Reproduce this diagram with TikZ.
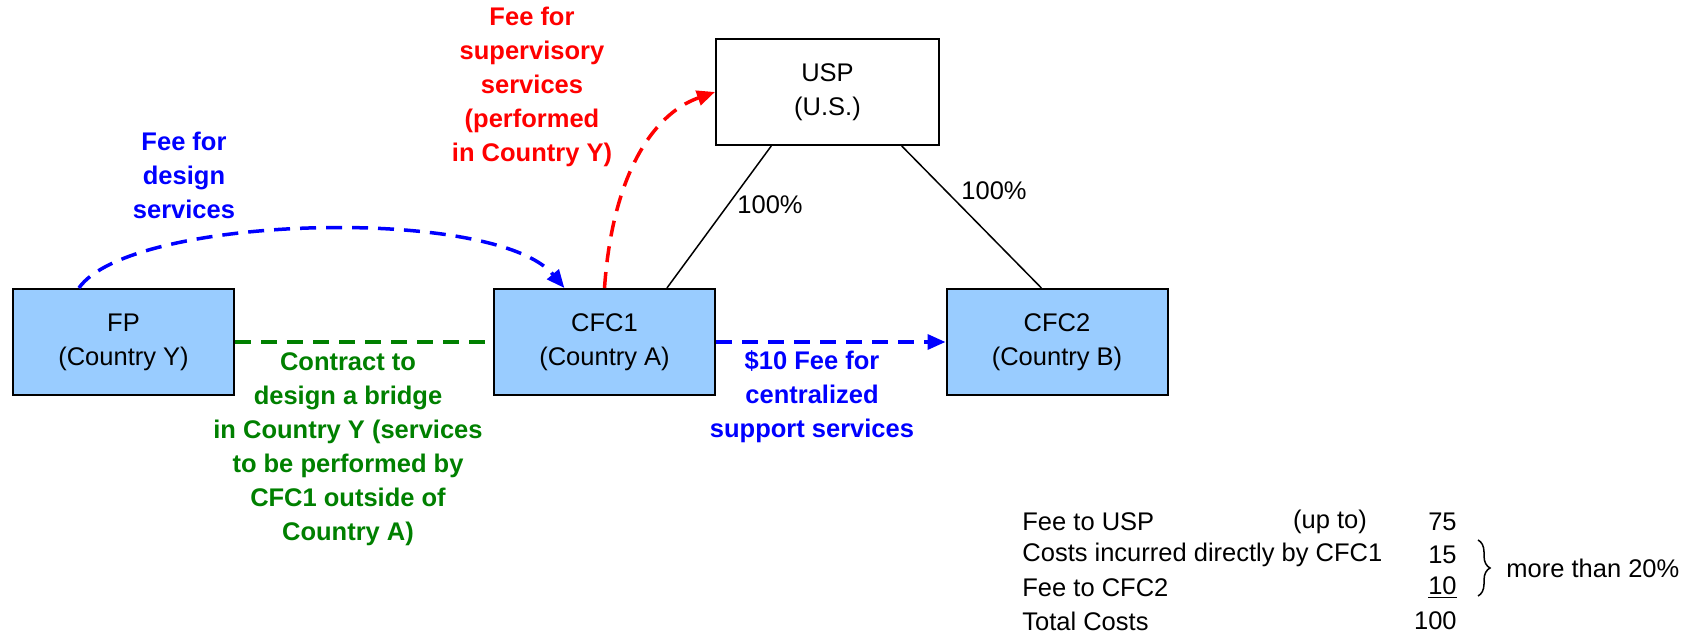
\documentclass[tikz,border=0pt]{standalone}
\usepackage{fontspec}
\setmainfont{Liberation Sans}
\usetikzlibrary{arrows.meta,calc,decorations.pathreplacing}
\definecolor{boxblue}{HTML}{99CCFF}
\definecolor{dkgreen}{HTML}{008000}
\begin{document}
\begin{tikzpicture}[x=0.5pt,y=-0.5pt,
  every node/.style={font=\fontsize{12.75}{17}\selectfont, align=center, inner sep=0pt},
  entity/.style={draw=black, line width=1pt, minimum width=110.5pt, minimum height=53pt},
  sub/.style={entity, fill=boxblue},
  flow/.style={line width=1.75pt, dash pattern=on 8pt off 5pt},
  tip/.style={-{Triangle[length=9pt,width=7.5pt]}},
  lbl/.style={font=\fontsize{12.75}{17}\selectfont\bfseries},
  own/.style={line width=0.75pt}
]
\useasboundingbox (0,0) rectangle (1696,635);

% entities
\node[sub] (FP) at (123.5,342) {FP\\(Country Y)};
\node[sub] (CFC1) at (604.5,342) {CFC1\\(Country A)};
\node[sub] (CFC2) at (1057,342) {CFC2\\(Country B)};
\node[entity, minimum width=111.5pt] (USP) at (827.5,92) {USP\\(U.S.)};

% ownership lines
\draw[own] ($(USP.south west)!0.25!(USP.south east)$) -- ($(CFC1.north west)!0.78!(CFC1.north east)$);
\draw[own] ($(USP.south west)!0.83!(USP.south east)$) -- ($(CFC2.north west)!0.43!(CFC2.north east)$);
\node (p1) at (770,205) {100\%};
\node (p2) at (994,191) {100\%};

% flows
\draw[flow, blue, tip] ($(FP.north west)!0.30!(FP.north east)$) .. controls (130,215) and (495,205) .. ($(CFC1.north west)!0.32!(CFC1.north east)$);
\draw[flow, red, tip] (CFC1.north) .. controls (612,180) and (650,115) .. (USP.west);
\draw[flow, dkgreen] (FP.east) -- (CFC1.west);
\draw[flow, blue, tip] (CFC1.east) -- (CFC2.west);

% flow labels
\node[lbl, text=blue] (lfp) at (184,175) {Fee for\\design\\services};
\node[lbl, text=red] (lsup) at (532,86.5) {Fee for\\supervisory\\services\\(performed\\in Country Y)};
\node[lbl, text=dkgreen] (lcon) at (348,449) {Contract to\\design a bridge\\in Country Y (services\\to be performed by\\CFC1 outside of\\Country A)};
\node[lbl, text=blue] (lcen) at (812,397) {\$10 Fee for\\centralized\\support services};

% cost table
\node[anchor=west] (t1) at (1022,522) {Fee to USP};
\node (t1b) at (1330,522) {(up to)};
\node[anchor=east] (n1) at (1457,522) {75};
\node[anchor=west] (t2) at (1022,555) {Costs incurred directly by CFC1};
\node[anchor=east] (n2) at (1457,555) {15};
\node[anchor=west] (t3) at (1022,588) {Fee to CFC2};
\node[anchor=east] (n3) at (1457,588) {\underline{10}};
\node[anchor=west] (t4) at (1022,621) {Total Costs};
\node[anchor=east] (n4) at (1457,621) {100};
\coordinate (bt) at (1478,540);
\coordinate (bb) at (1478,596);
\draw[line width=0.75pt, decorate, decoration={brace, amplitude=6pt}] (bt) -- (bb);
\node[anchor=west] (more) at (1506,568) {more than 20\%};
\end{tikzpicture}
\end{document}
